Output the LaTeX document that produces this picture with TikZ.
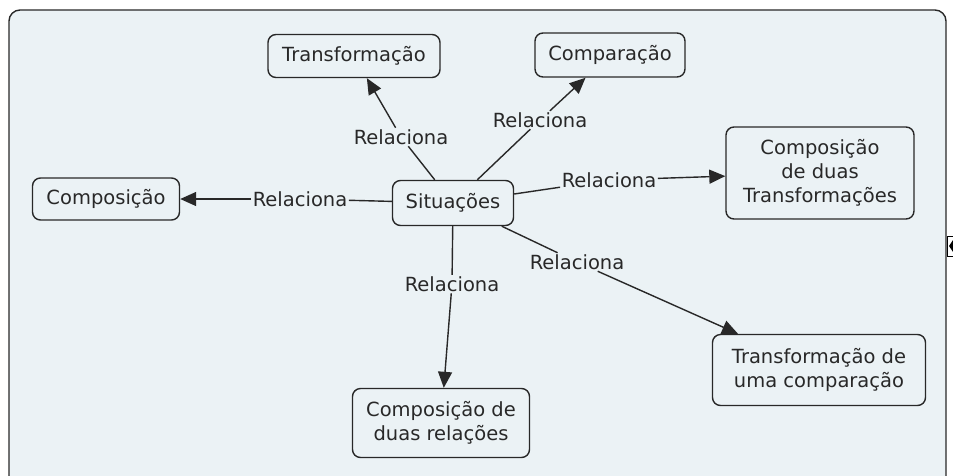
\documentclass[tikz,border=0pt]{standalone}
\usepackage{fontspec}
\setmainfont{DejaVu Sans}
\usetikzlibrary{arrows.meta}
\definecolor{bgc}{RGB}{235,242,245}
\definecolor{ink}{RGB}{40,40,40}
\tikzset{
  concept/.style={draw=ink, line width=1.4pt, rounded corners=8pt, align=center,
    text=ink, font=\fontsize{19.5}{24}\selectfont, inner sep=2pt},
  linklabel/.style={text=ink, font=\fontsize{19.5}{24}\selectfont, inner sep=1.5pt},
  conn/.style={draw=ink, line width=1.4pt},
  arr/.style={conn, -{Triangle[length=16pt,width=14pt]}}
}
\begin{document}
\begin{tikzpicture}[x=1pt,y=-1pt]
\useasboundingbox (0,0) rectangle (953,475);
\begin{scope}
\clip (0,0) rectangle (953,475);
\draw[draw=ink, line width=1.4pt, fill=bgc, rounded corners=11pt] (9,10) rectangle (946,500);
\draw[draw=black, fill=white, line width=1pt] (947,236) rectangle (958,256);
\fill[black] (953,240) -- (953,252) -- (949,246) -- cycle;
\end{scope}

\node[concept, minimum width=172pt, minimum height=43pt] (tr) at (354,56) {Transformação};
\node[concept, minimum width=150pt, minimum height=44pt] (cp) at (610,55) {Comparação};
\node[concept, minimum width=147pt, minimum height=42pt] (co) at (106,199) {Composição};
\node[concept, minimum width=121pt, minimum height=45pt] (si) at (453,203) {Situações};
\node[concept, minimum width=188pt, minimum height=92pt] (cdt) at (820,173) {Composição\\de duas\\Transformações};
\node[concept, minimum width=213pt, minimum height=71pt] (tuc) at (819,370) {Transformação de\\uma comparação};
\node[concept, minimum width=177pt, minimum height=69pt] (cdr) at (441,423) {Composição de\\duas relações};

\node[linklabel] (l1) at (401,137) {Relaciona};
\node[linklabel] (l2) at (540,120) {Relaciona};
\node[linklabel] (l3) at (300,199) {Relaciona};
\node[linklabel] (l4) at (609,180) {Relaciona};
\node[linklabel] (l5) at (577,262) {Relaciona};
\node[linklabel] (l6) at (452,284) {Relaciona};

\draw[conn] (si) -- (l1); \draw[arr] (l1) -- (tr);
\draw[conn] (si) -- (l2); \draw[arr] (l2) -- (cp);
\draw[conn] (si) -- (l3); \draw[arr] (l3) -- (co);
\draw[conn] (si) -- (l4); \draw[arr] (l4) -- (cdt);
\draw[conn] (si) -- (l5); \draw[arr] (l5) -- (tuc);
\draw[conn] (si) -- (l6); \draw[arr] (l6) -- (cdr);
\end{tikzpicture}
\end{document}
